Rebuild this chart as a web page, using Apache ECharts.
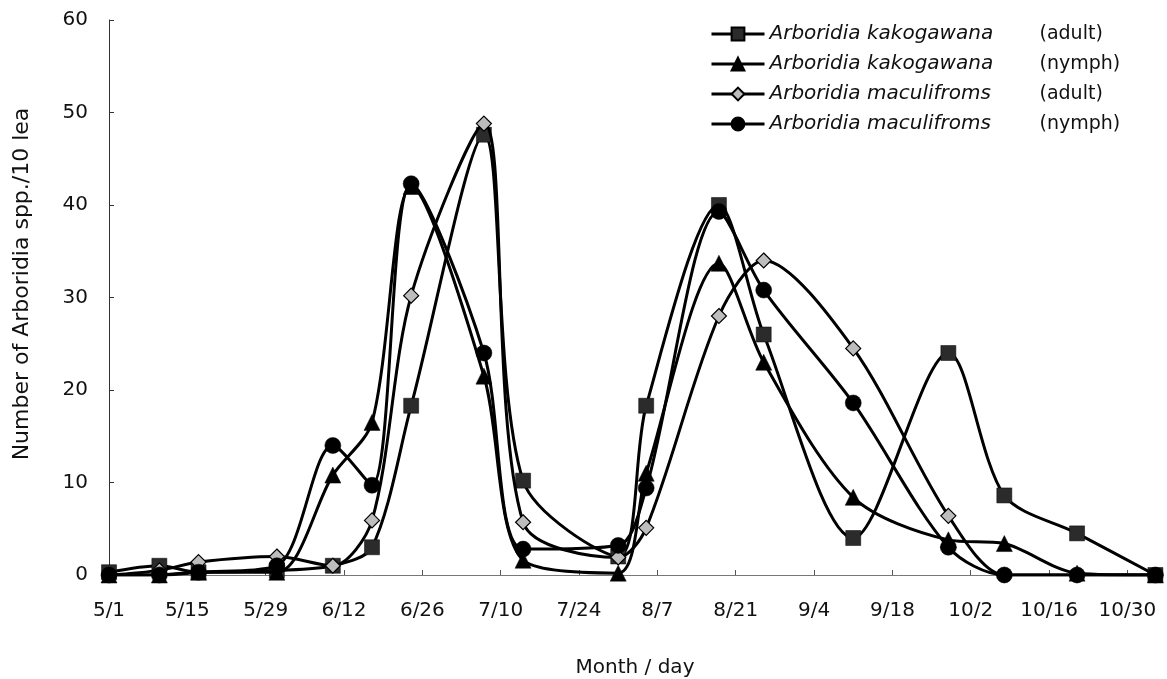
<!DOCTYPE html>
<html>
<head>
<meta charset="utf-8">
<script src="https://cdn.jsdelivr.net/npm/echarts@6/dist/echarts.min.js"></script>
<style>html,body{margin:0;padding:0;background:#fff}#c{width:1167px;height:679px}</style>
</head>
<body>
<div id="c"></div>
<script>
// Tick labels (every 14 days, starting at 5/1 = day 0)
const tickLabels = ['5/1','5/15','5/29','6/12','6/26','7/10','7/24','8/7','8/21','9/4','9/18','10/2','10/16','10/30'];
// Sampling dates as days after 5/1
const sampleDays = [0, 9, 16, 30, 40, 47, 54, 67, 74, 91, 96, 109, 117, 133, 150, 160, 173, 187];
const kakogawanaAdult = [0.3, 1.0, 0.3, 0.5, 1.0, 3.0, 18.3, 47.6, 10.2, 2.0, 18.3, 40.0, 26.0, 4.0, 24.0, 8.6, 4.5, 0];
const kakogawanaNymph = [0, 0, 0.3, 0.3, 10.8, 16.5, 42.0, 21.5, 1.6, 0.2, 11.0, 33.7, 23.0, 8.4, 3.8, 3.4, 0.2, 0];
const maculiAdult     = [0, 0.5, 1.4, 2.0, 1.0, 5.9, 30.2, 48.8, 5.7, 1.9, 5.1, 28.0, 34.0, 24.5, 6.4, 0, 0, 0];
const maculiNymph     = [0, 0, 0.3, 1.0, 14.0, 9.7, 42.3, 24.0, 2.8, 3.2, 9.4, 39.3, 30.8, 18.6, 3.0, 0, 0, 0];
const seriesNames = [
  ['Arboridia kakogawana', '(adult)'],
  ['Arboridia kakogawana', '(nymph)'],
  ['Arboridia maculifroms', '(adult)'],
  ['Arboridia maculifroms', '(nymph)']
];

const FONT = 'DejaVu Sans';
const pair = a => sampleDays.map((d, i) => [d, a[i]]);
const mk = (idx, arr, symbol, size, fill) => ({
  name: seriesNames[idx].join(' '),
  type: 'line',
  smooth: 0.3,
  data: pair(arr),
  symbol: symbol,
  symbolSize: size,
  showAllSymbol: true,
  lineStyle: { color: '#000', width: 3 },
  itemStyle: { color: fill, borderColor: '#000', borderWidth: symbol === 'diamond' ? 1.2 : 0.5 },
  emphasis: { disabled: true },
  z: 2 + idx
});

const chart = echarts.init(document.getElementById('c'), null, { renderer: 'canvas' });
chart.setOption({
  animation: false,
  backgroundColor: '#fff',
  grid: { left: 109, right: 6, top: 20, bottom: 104, containLabel: false, outerBoundsMode: 'none' },
  xAxis: {
    type: 'value',
    min: 0, max: 188, interval: 14,
    axisLine: { show: true, onZero: false, lineStyle: { color: '#777', width: 1 } },
    axisTick: { show: true, inside: true, length: 5, lineStyle: { color: '#555' } },
    splitLine: { show: false },
    axisLabel: {
      margin: 26, color: '#111', fontFamily: FONT, fontSize: 20,
      showMaxLabel: false,
      formatter: v => (v % 14 === 0 && tickLabels[v / 14] !== undefined) ? tickLabels[v / 14] : ''
    },
    name: 'Month / day',
    nameLocation: 'middle',
    nameGap: 83,
    nameTextStyle: { color: '#111', fontFamily: FONT, fontSize: 20 }
  },
  yAxis: {
    type: 'value',
    min: 0, max: 60, interval: 10,
    axisLine: { show: true, lineStyle: { color: '#333', width: 1 } },
    axisTick: { show: true, inside: true, length: 5, lineStyle: { color: '#333' } },
    splitLine: { show: false },
    axisLabel: { margin: 21, color: '#111', fontFamily: FONT, fontSize: 20 }
  },
  graphic: [{
    type: 'text',
    x: 22, y: 284,
    rotation: Math.PI / 2,
    style: {
      text: 'Number of Arboridia spp./10 lea',
      font: '22px "DejaVu Sans"',
      fill: '#111',
      textAlign: 'center',
      textVerticalAlign: 'middle'
    }
  }],
  legend: {
    orient: 'vertical',
    left: 705, top: 19,
    itemWidth: 53, itemHeight: 16,
    itemGap: 10,
    lineStyle: { width: 3, color: '#000' },
    data: seriesNames.map(n => n.join(' ')),
    formatter: name => {
      const i = seriesNames.findIndex(n => n.join(' ') === name);
      return '{i|' + seriesNames[i][0] + '}{n|' + seriesNames[i][1] + '}';
    },
    textStyle: {
      rich: {
        i: { fontFamily: FONT, fontStyle: 'italic', fontSize: 20, color: '#111', width: 270, lineHeight: 21 },
        n: { fontFamily: FONT, fontSize: 19, color: '#111', lineHeight: 21 }
      }
    }
  },
  series: [
    mk(0, kakogawanaAdult, 'rect', 15, '#2b2b2b'),
    mk(1, kakogawanaNymph, 'triangle', 16, '#000'),
    mk(2, maculiAdult, 'diamond', 15, '#bdbdbd'),
    mk(3, maculiNymph, 'circle', 16, '#000')
  ]
});
</script>
</body>
</html>
